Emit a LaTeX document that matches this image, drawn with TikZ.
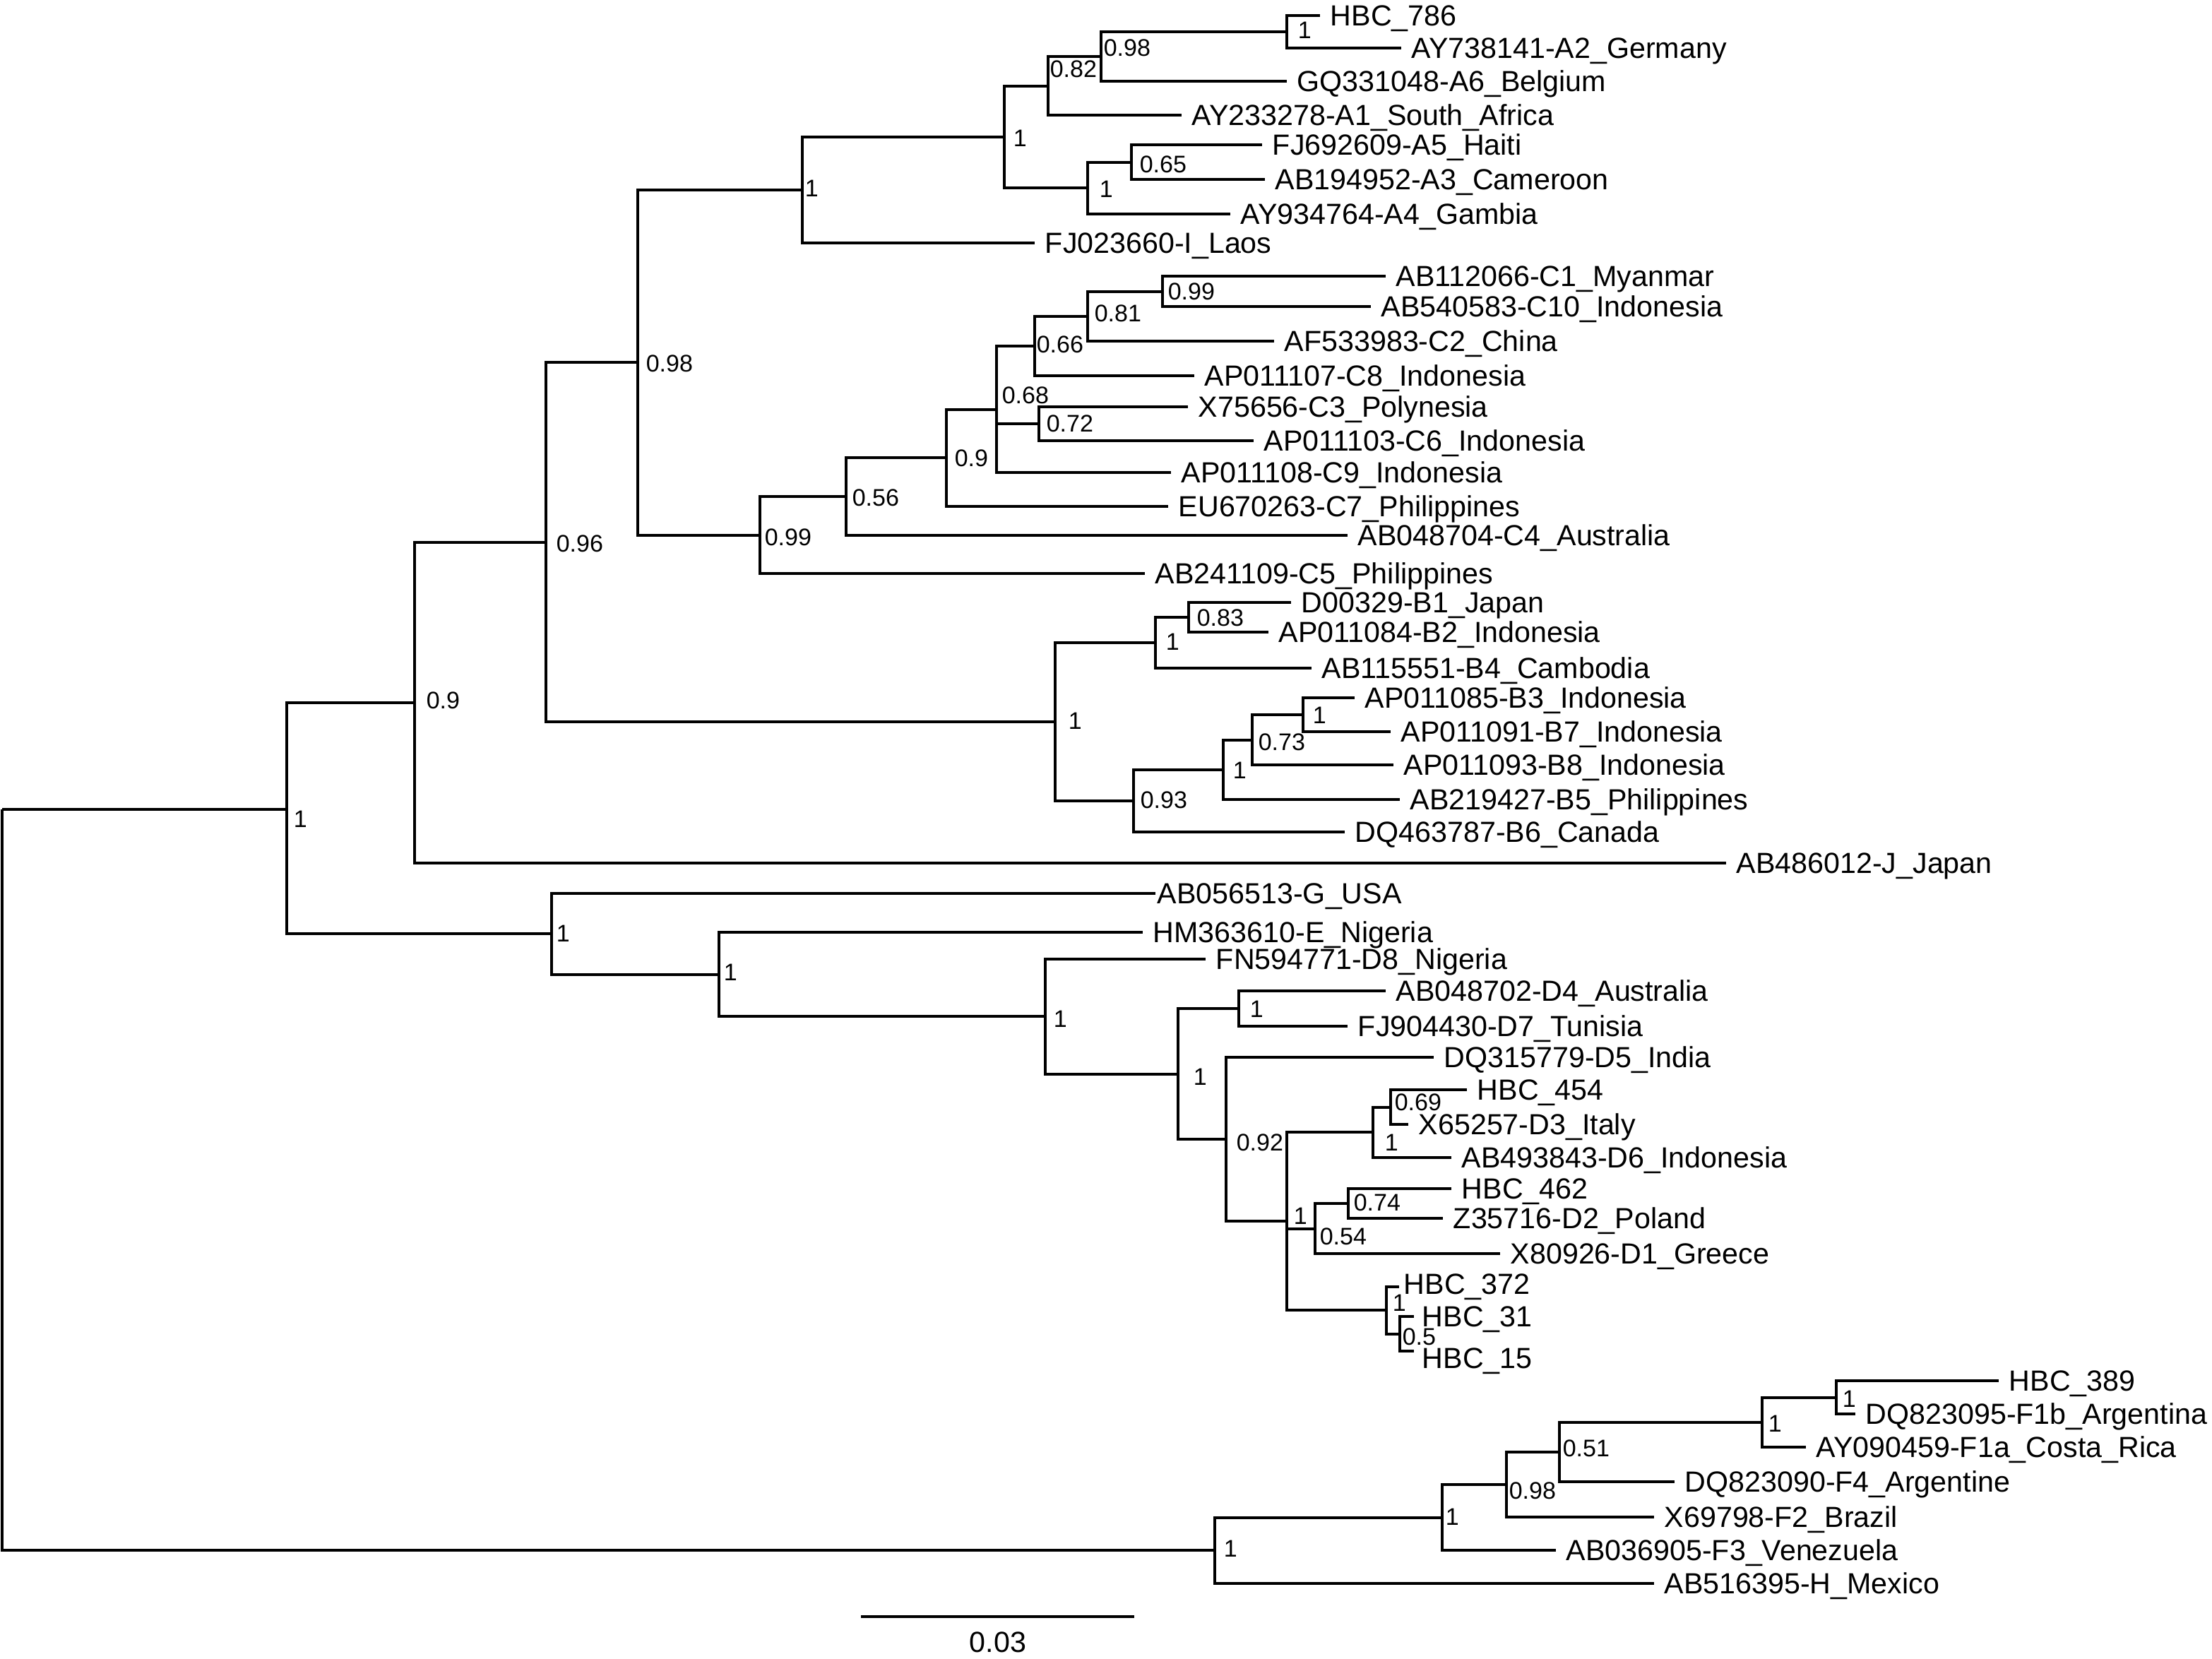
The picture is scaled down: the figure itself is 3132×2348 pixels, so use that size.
\documentclass[tikz,border=0pt]{standalone}
\usepackage{fontspec}
\setmainfont{Liberation Sans}
\begin{document}
\begin{tikzpicture}[x=0.25pt,y=-0.25pt,
  br/.style={line width=1pt, line join=miter},
  leaf/.style={anchor=base west, inner sep=0pt, xshift=3.5pt, yshift=-3.69pt, font=\fontsize{10.3pt}{12pt}\selectfont},
  bs/.style={anchor=base west, inner sep=0pt, yshift=-3.04pt, font=\fontsize{8.5pt}{10pt}\selectfont}]
\useasboundingbox (0,0) rectangle (3132,2348);

% ---- leaf ends ----
\coordinate (l1) at (1869,22);
\coordinate (l2) at (1984,68);
\coordinate (l3) at (1822,115);
\coordinate (l4) at (1673,163);
\coordinate (l5) at (1787,205);
\coordinate (l6) at (1791,254);
\coordinate (l7) at (1742,303);
\coordinate (l8) at (1465,344);
\coordinate (l9) at (1962,391);
\coordinate (l10) at (1941,434);
\coordinate (l11) at (1804,483);
\coordinate (l12) at (1691,532);
\coordinate (l13) at (1682,576);
\coordinate (l14) at (1775,624);
\coordinate (l15) at (1658,669);
\coordinate (l16) at (1654,717);
\coordinate (l17) at (1908,758);
\coordinate (l18) at (1621,812);
\coordinate (l19) at (1828,853);
\coordinate (l20) at (1796,895);
\coordinate (l21) at (1857,946);
\coordinate (l22) at (1918,988);
\coordinate (l23) at (1969,1036);
\coordinate (l24) at (1973,1083);
\coordinate (l25) at (1982,1132);
\coordinate (l26) at (1904,1178);
\coordinate (l27) at (2444,1222);
\coordinate (l28) at (1636,1265);
\coordinate (l29) at (1618,1320);
\coordinate (l30) at (1707,1358);
\coordinate (l31) at (1962,1403);
\coordinate (l32) at (1908,1453);
\coordinate (l33) at (2030,1497);
\coordinate (l34) at (2077,1543);
\coordinate (l35) at (1994,1592);
\coordinate (l36) at (2055,1639);
\coordinate (l37) at (2055,1683);
\coordinate (l38) at (2043,1725);
\coordinate (l39) at (2124,1775);
\coordinate (l40) at (1981,1822);
\coordinate (l41) at (2002,1864);
\coordinate (l42) at (2002,1913);
\coordinate (l43) at (2830,1955);
\coordinate (l44) at (2627,2002);
\coordinate (l45) at (2557,2049);
\coordinate (l46) at (2371,2098);
\coordinate (l47) at (2342,2148);
\coordinate (l48) at (2203,2195);
\coordinate (l49) at (2342,2242);

% ---- internal nodes ----
\coordinate (root) at (3,1146);
\coordinate (n1) at (406,1146);
\coordinate (n09) at (587,994.8);
\coordinate (n096) at (773,767.6);
\coordinate (n098) at (903,513.3);
\coordinate (nA0) at (1136,269);
\coordinate (nA) at (1422,193.9);
\coordinate (n082) at (1484,121.5);
\coordinate (n098b) at (1559,80);
\coordinate (nHBC) at (1822,45);
\coordinate (nA3) at (1540,266.25);
\coordinate (n065) at (1602,229.5);
\coordinate (nC0) at (1076,757.6);
\coordinate (n056) at (1198,703.1);
\coordinate (n09c) at (1340,648.2);
\coordinate (n068) at (1411,579.5);
\coordinate (n066) at (1465,489.9);
\coordinate (n081) at (1540,447.75);
\coordinate (n099) at (1646,412.5);
\coordinate (n072) at (1471,600);
\coordinate (nB0) at (1494,1021.9);
\coordinate (nB1) at (1636,910);
\coordinate (n083) at (1683,874);
\coordinate (n093) at (1605,1133.9);
\coordinate (nB5) at (1732,1089.75);
\coordinate (n073) at (1773,1047.5);
\coordinate (nB3) at (1845,1012);
\coordinate (nG) at (781,1322.3);
\coordinate (nE) at (1018,1379.65);
\coordinate (nD) at (1480,1439.3);
\coordinate (nD2) at (1668,1520.6);
\coordinate (nD47) at (1754,1428);
\coordinate (n092) at (1736,1613.1);
\coordinate (nDbig) at (1822,1729.25);
\coordinate (nD3) at (1944,1603.25);
\coordinate (n069) at (1969,1567.5);
\coordinate (n054) at (1862,1739.5);
\coordinate (n074) at (1909,1704);
\coordinate (nH372) at (1963,1855.25);
\coordinate (n05) at (1982,1888.5);
\coordinate (nFH) at (1720,2195.25);
\coordinate (nF) at (2042,2148.5);
\coordinate (n098f) at (2133,2101.9);
\coordinate (n051) at (2208,2055.9);
\coordinate (nF1a) at (2495,2013.75);
\coordinate (nF1b) at (2600,1978.5);

% ---- branches ----
\draw[br] (root) -- (n1);
\draw[br] (root) |- (nFH);
\draw[br] (n1) |- (n09);  \draw[br] (n1) |- (nG);
\draw[br] (n09) |- (n096); \draw[br] (n09) |- (l27);
\draw[br] (n096) |- (n098); \draw[br] (n096) |- (nB0);
\draw[br] (n098) |- (nA0); \draw[br] (n098) |- (nC0);
\draw[br] (nA0) |- (nA); \draw[br] (nA0) |- (l8);
\draw[br] (nA) |- (n082); \draw[br] (nA) |- (nA3);
\draw[br] (n082) |- (n098b); \draw[br] (n082) |- (l4);
\draw[br] (n098b) |- (nHBC); \draw[br] (n098b) |- (l3);
\draw[br] (nHBC) |- (l1); \draw[br] (nHBC) |- (l2);
\draw[br] (nA3) |- (n065); \draw[br] (nA3) |- (l7);
\draw[br] (n065) |- (l5); \draw[br] (n065) |- (l6);
\draw[br] (nC0) |- (n056); \draw[br] (nC0) |- (l18);
\draw[br] (n056) |- (n09c); \draw[br] (n056) |- (l17);
\draw[br] (n09c) |- (n068); \draw[br] (n09c) |- (l16);
\draw[br] (n068) |- (n066); \draw[br] (n068) |- (n072); \draw[br] (n068) |- (l15);
\draw[br] (n066) |- (n081); \draw[br] (n066) |- (l12);
\draw[br] (n081) |- (n099); \draw[br] (n081) |- (l11);
\draw[br] (n099) |- (l9); \draw[br] (n099) |- (l10);
\draw[br] (n072) |- (l13); \draw[br] (n072) |- (l14);
\draw[br] (nB0) |- (nB1); \draw[br] (nB0) |- (n093);
\draw[br] (nB1) |- (n083); \draw[br] (nB1) |- (l21);
\draw[br] (n083) |- (l19); \draw[br] (n083) |- (l20);
\draw[br] (n093) |- (nB5); \draw[br] (n093) |- (l26);
\draw[br] (nB5) |- (n073); \draw[br] (nB5) |- (l25);
\draw[br] (n073) |- (nB3); \draw[br] (n073) |- (l24);
\draw[br] (nB3) |- (l22); \draw[br] (nB3) |- (l23);
\draw[br] (nG) |- (l28); \draw[br] (nG) |- (nE);
\draw[br] (nE) |- (l29); \draw[br] (nE) |- (nD);
\draw[br] (nD) |- (l30); \draw[br] (nD) |- (nD2);
\draw[br] (nD2) |- (nD47); \draw[br] (nD2) |- (n092);
\draw[br] (nD47) |- (l31); \draw[br] (nD47) |- (l32);
\draw[br] (n092) |- (l33); \draw[br] (n092) |- (nDbig);
\draw[br] (nDbig) |- (nD3); \draw[br] (nDbig) |- (n054); \draw[br] (nDbig) |- (nH372);
\draw[br] (nD3) |- (n069); \draw[br] (nD3) |- (l36);
\draw[br] (n069) |- (l34); \draw[br] (n069) |- (l35);
\draw[br] (n054) |- (n074); \draw[br] (n054) |- (l39);
\draw[br] (n074) |- (l37); \draw[br] (n074) |- (l38);
\draw[br] (nH372) |- (l40); \draw[br] (nH372) |- (n05);
\draw[br] (n05) |- (l41); \draw[br] (n05) |- (l42);
\draw[br] (nFH) |- (nF); \draw[br] (nFH) |- (l49);
\draw[br] (nF) |- (n098f); \draw[br] (nF) |- (l48);
\draw[br] (n098f) |- (n051); \draw[br] (n098f) |- (l47);
\draw[br] (n051) |- (nF1a); \draw[br] (n051) |- (l46);
\draw[br] (nF1a) |- (nF1b); \draw[br] (nF1a) |- (l45);
\draw[br] (nF1b) |- (l43); \draw[br] (nF1b) |- (l44);

% ---- leaf labels ----
\node[leaf] (t1) at (l1) {HBC\_786};
\node[leaf] (t2) at (l2) {AY738141-A2\_Germany};
\node[leaf] (t3) at (l3) {GQ331048-A6\_Belgium};
\node[leaf] (t4) at (l4) {AY233278-A1\_South\_Africa};
\node[leaf] (t5) at (l5) {FJ692609-A5\_Haiti};
\node[leaf] (t6) at (l6) {AB194952-A3\_Cameroon};
\node[leaf] (t7) at (l7) {AY934764-A4\_Gambia};
\node[leaf] (t8) at (l8) {FJ023660-I\_Laos};
\node[leaf] (t9) at (l9) {AB112066-C1\_Myanmar};
\node[leaf] (t10) at (l10) {AB540583-C10\_Indonesia};
\node[leaf] (t11) at (l11) {AF533983-C2\_China};
\node[leaf] (t12) at (l12) {AP011107-C8\_Indonesia};
\node[leaf] (t13) at (l13) {X75656-C3\_Polynesia};
\node[leaf] (t14) at (l14) {AP011103-C6\_Indonesia};
\node[leaf] (t15) at (l15) {AP011108-C9\_Indonesia};
\node[leaf] (t16) at (l16) {EU670263-C7\_Philippines};
\node[leaf] (t17) at (l17) {AB048704-C4\_Australia};
\node[leaf] (t18) at (l18) {AB241109-C5\_Philippines};
\node[leaf] (t19) at (l19) {D00329-B1\_Japan};
\node[leaf] (t20) at (l20) {AP011084-B2\_Indonesia};
\node[leaf] (t21) at (l21) {AB115551-B4\_Cambodia};
\node[leaf] (t22) at (l22) {AP011085-B3\_Indonesia};
\node[leaf] (t23) at (l23) {AP011091-B7\_Indonesia};
\node[leaf] (t24) at (l24) {AP011093-B8\_Indonesia};
\node[leaf] (t25) at (l25) {AB219427-B5\_Philippines};
\node[leaf] (t26) at (l26) {DQ463787-B6\_Canada};
\node[leaf] (t27) at (l27) {AB486012-J\_Japan};
\node[leaf, xshift=-3pt] (t28) at (l28) {AB056513-G\_USA};
\node[leaf] (t29) at (l29) {HM363610-E\_Nigeria};
\node[leaf] (t30) at (l30) {FN594771-D8\_Nigeria};
\node[leaf] (t31) at (l31) {AB048702-D4\_Australia};
\node[leaf] (t32) at (l32) {FJ904430-D7\_Tunisia};
\node[leaf] (t33) at (l33) {DQ315779-D5\_India};
\node[leaf] (t34) at (l34) {HBC\_454};
\node[leaf] (t35) at (l35) {X65257-D3\_Italy};
\node[leaf] (t36) at (l36) {AB493843-D6\_Indonesia};
\node[leaf] (t37) at (l37) {HBC\_462};
\node[leaf] (t38) at (l38) {Z35716-D2\_Poland};
\node[leaf] (t39) at (l39) {X80926-D1\_Greece};
\node[leaf, xshift=-2pt, yshift=1pt] (t40) at (l40) {HBC\_372};
\node[leaf, xshift=-0.75pt] (t41) at (l41) {HBC\_31};
\node[leaf, xshift=-0.75pt, yshift=-2.5pt] (t42) at (l42) {HBC\_15};
\node[leaf] (t43) at (l43) {HBC\_389};
\node[leaf] (t44) at (l44) {DQ823095-F1b\_Argentina};
\node[leaf] (t45) at (l45) {AY090459-F1a\_Costa\_Rica};
\node[leaf] (t46) at (l46) {DQ823090-F4\_Argentine};
\node[leaf] (t47) at (l47) {X69798-F2\_Brazil};
\node[leaf] (t48) at (l48) {AB036905-F3\_Venezuela};
\node[leaf] (t49) at (l49) {AB516395-H\_Mexico};

% ---- support values ----
\node[bs] (b1) at (415,1159) {1};
\node[bs] (b2) at (603,991) {0.9};
\node[bs] (b3) at (787,769) {0.96};
\node[bs] (b4) at (914,514) {0.98};
\node[bs] (b5) at (1139,266) {1};
\node[bs] (b6) at (1434,195) {1};
\node[bs] (b7) at (1486,97) {0.82};
\node[bs] (b8) at (1562,67) {0.98};
\node[bs] (b9) at (1837,42) {1};
\node[bs] (b10) at (1556,267) {1};
\node[bs] (b11) at (1613,232) {0.65};
\node[bs] (b12) at (1082,760) {0.99};
\node[bs] (b13) at (1206,704) {0.56};
\node[bs] (b14) at (1351,648) {0.9};
\node[bs] (b15) at (1418,559) {0.68};
\node[bs] (b16) at (1467,487) {0.66};
\node[bs] (b17) at (1549,443) {0.81};
\node[bs] (b18) at (1653,412) {0.99};
\node[bs] (b19) at (1481,599) {0.72};
\node[bs] (b20) at (1512,1020) {1};
\node[bs] (b21) at (1650,908) {1};
\node[bs] (b22) at (1694,874) {0.83};
\node[bs] (b23) at (1614,1132) {0.93};
\node[bs] (b24) at (1745,1090) {1};
\node[bs] (b25) at (1781,1050) {0.73};
\node[bs] (b26) at (1858,1012) {1};
\node[bs] (b27) at (787,1321) {1};
\node[bs] (b28) at (1024,1376) {1};
\node[bs] (b29) at (1491,1442) {1};
\node[bs] (b30) at (1689,1524) {1};
\node[bs] (b31) at (1769,1428) {1};
\node[bs] (b32) at (1750,1617) {0.92};
\node[bs] (b33) at (1831,1721) {1};
\node[bs] (b34) at (1960,1617) {1};
\node[bs] (b35) at (1974,1560) {0.69};
\node[bs] (b36) at (1916,1702) {0.74};
\node[bs] (b37) at (1868,1750) {0.54};
\node[bs] (b38) at (1971,1844) {1};
\node[bs] (b39) at (1985,1892) {0.5};
\node[bs] (b40) at (1732,2192) {1};
\node[bs] (b41) at (2046,2147) {1};
\node[bs] (b42) at (2136,2110) {0.98};
\node[bs] (b43) at (2212,2050) {0.51};
\node[bs] (b44) at (2503,2015) {1};
\node[bs] (b45) at (2608,1980) {1};

% ---- scale bar ----
\coordinate (sb1) at (1219,2289);
\coordinate (sb2) at (1606,2289);
\draw[br] (sb1) -- (sb2);
\node[anchor=base, inner sep=0pt, yshift=-3.69pt, font=\fontsize{10.3pt}{12pt}\selectfont] (sbl) at (1413,2325) {0.03};
\end{tikzpicture}
\end{document}
